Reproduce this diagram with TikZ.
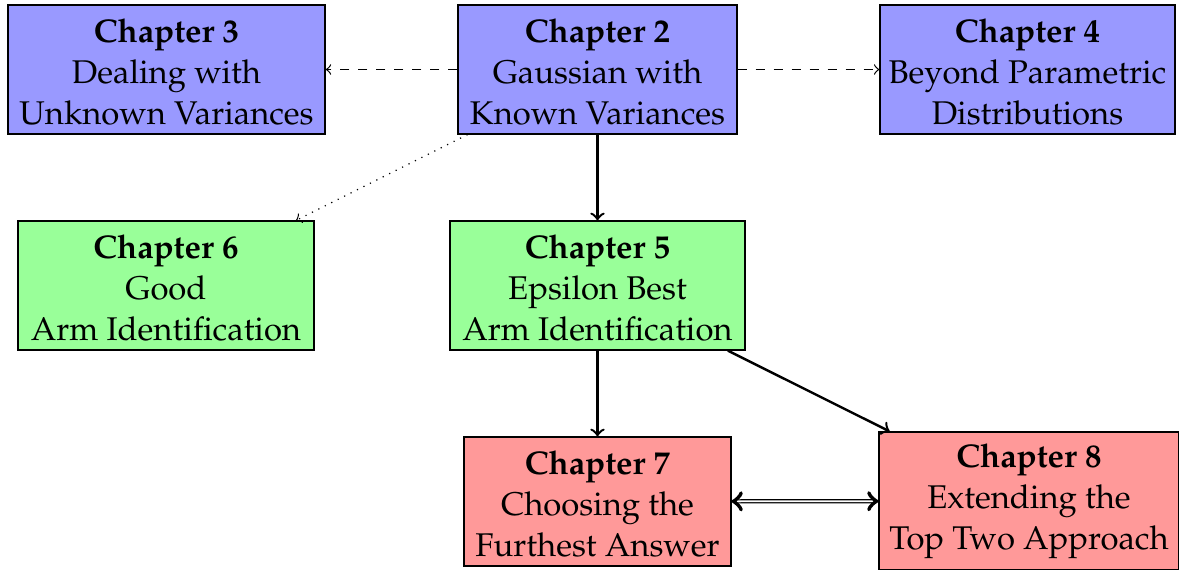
\documentclass[tikz,border=0pt]{standalone}
\usepackage[T1]{fontenc}
\usepackage{mathpazo}
\newcommand\mytstrut{\rule{0pt}{\dimexpr\fontcharht\font`h+1.4pt\relax}}
\begin{document}
\begin{tikzpicture}[x=0.33333pt,y=-0.33333pt,
  chap/.style={draw, align=center, inner sep=0pt, font=\fontsize{10.95}{13.7}\selectfont, minimum height=43pt},
  blueb/.style={chap, fill=blue!40},
  greenb/.style={chap, fill=green!40},
  redb/.style={chap, fill=red!40},
  solidarr/.style={->, thick},
  dasharr/.style={->, dashed},
  dotarr/.style={->, dotted}]
\useasboundingbox (0,0) rectangle (1179,569);
\node[blueb, minimum width=105.7pt] (ch3) at (166.5,69.5) {\textbf{\mytstrut Chapter 3}\\Dealing with\\Unknown Variances};
\node[blueb, minimum width=93pt] (ch2) at (597.5,69.5) {\textbf{\mytstrut Chapter 2}\\Gaussian with\\Known Variances};
\node[blueb, minimum width=98.3pt] (ch4) at (1027.5,69.5) {\textbf{\mytstrut Chapter 4}\\Beyond Parametric\\Distributions};
\node[greenb, minimum width=98.7pt] (ch6) at (166,285.5) {\textbf{\mytstrut Chapter 6}\\Good\\Arm Identification};
\node[greenb, minimum width=98.3pt] (ch5) at (597.5,285.5) {\textbf{\mytstrut Chapter 5}\\Epsilon Best\\Arm Identification};
\node[redb, minimum width=89pt] (ch7) at (597.5,501.5) {\textbf{\mytstrut Chapter 7}\\Choosing the\\Furthest Answer};
\node[redb, minimum width=100pt, minimum height=46pt] (ch8) at (1029,501) {\textbf{Chapter 8}\\Extending the\\Top Two Approach};
\draw[dasharr] (ch2) -- (ch3);
\draw[dasharr] (ch2) -- (ch4);
\draw[dotarr] (ch2) -- (ch6);
\draw[solidarr] (ch2) -- (ch5);
\draw[solidarr] (ch5) -- (ch7);
\draw[solidarr] (ch5) -- (ch8);
\draw[<->, double] (ch7) -- (ch8);
\end{tikzpicture}
\end{document}
